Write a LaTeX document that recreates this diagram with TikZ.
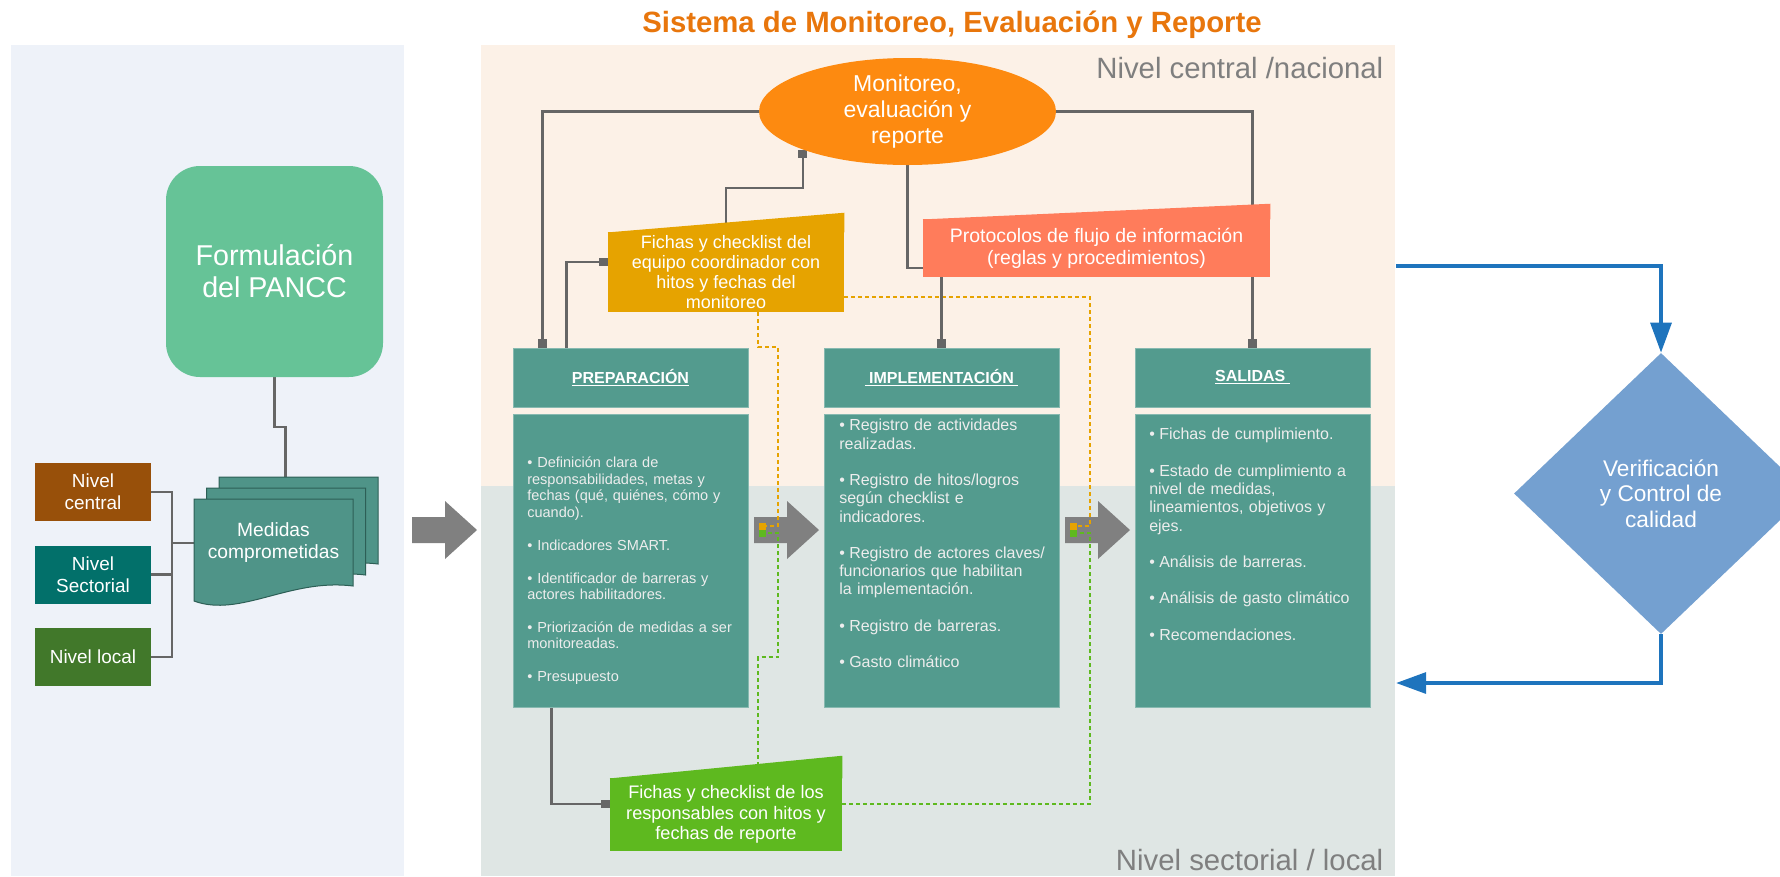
\documentclass[tikz,border=0pt]{standalone}
\usepackage{fontspec}
\setmainfont{Liberation Sans}
\usetikzlibrary{arrows.meta,shapes.geometric}

\definecolor{titleorange}{HTML}{E8760C}
\definecolor{panelblue}{HTML}{EEF2F9}
\definecolor{panelpeach}{HTML}{FCF1E7}
\definecolor{panelgray}{HTML}{DFE6E4}
\definecolor{formgreen}{HTML}{66C397}
\definecolor{docteal}{HTML}{4F9488}
\definecolor{docedge}{HTML}{2D5F56}
\definecolor{boxteal}{HTML}{539B8E}
\definecolor{nivbrown}{HTML}{98500A}
\definecolor{nivteal}{HTML}{02706A}
\definecolor{nivgreen}{HTML}{41782A}
\definecolor{merorange}{HTML}{FD8A10}
\definecolor{protocoral}{HTML}{FF7C5B}
\definecolor{fichgold}{HTML}{E6A300}
\definecolor{fichgreen}{HTML}{5EB91F}
\definecolor{wiregray}{HTML}{666666}
\definecolor{arrowgray}{HTML}{808080}
\definecolor{verblue}{HTML}{74A0D0}
\definecolor{linkblue}{HTML}{1E74BD}
\definecolor{levelgray}{HTML}{7F7F7F}

\pgfdeclarelayer{back}
\pgfdeclarelayer{wires}
\pgfsetlayers{back,wires,main}

\newcommand{\bitem}[1]{\par\noindent\hangindent=7.5pt\hangafter=1\makebox[7.5pt][l]{\textbullet}#1\par}
\newcommand{\itemgap}{\vspace{\baselineskip}}

\begin{document}
\begin{tikzpicture}[x=0.75pt,y=-0.75pt,node distance=233.25pt,
  level node/.style={fill=#1,minimum width=87pt,minimum height=43.5pt,inner sep=0,align=center,text=white,font=\fontsize{14.2pt}{16.3pt}\selectfont},
  head node/.style={fill=boxteal,draw=boxteal!70!white,line width=0.75pt,minimum width=176.25pt,minimum height=44.25pt,inner sep=0,text=white,font=\bfseries\fontsize{12pt}{14pt}\selectfont},
  body node/.style={fill=boxteal,draw=boxteal!70!white,line width=0.75pt,minimum width=176.25pt,minimum height=219.75pt,inner sep=0},
  body text/.style={anchor=north west,inner sep=0,text width=165pt,align=left,text=white!93!black},
  card node/.style={fill=#1,inner sep=0,align=center,text=white},
  conn/.style={draw=wiregray,line width=1.6pt},
  wire end/.style={-{Square[length=6.4pt,width=6.4pt]}},
  dash link/.style={line width=1.75pt,dash pattern=on 3pt off 2.25pt,-{Square[length=5.25pt,width=5.25pt]}},
  blue link/.style={draw=linkblue,line width=3pt,-{Triangle[length=22.5pt,width=15.5pt]}}]

  \useasboundingbox (0,0) rectangle (1780,876);

  % panels
  \begin{pgfonlayer}{back}
    \fill[panelblue] (11,45) rectangle (404,876);
    \fill[panelpeach] (481,45) rectangle (1395,486);
    \fill[panelgray] (481,486) rectangle (1395,876);
  \end{pgfonlayer}

  \node[anchor=base,text=titleorange,font=\bfseries\fontsize{22pt}{24pt}\selectfont] (title) at (952,32)
    {Sistema de Monitoreo, Evaluación y Reporte};
  \node[anchor=base east,text=levelgray,font=\fontsize{22pt}{24pt}\selectfont] (lvtop) at (1388,78) {Nivel central /nacional};
  \node[anchor=base east,text=levelgray,font=\fontsize{22pt}{24pt}\selectfont] (lvbot) at (1388,870) {Nivel sectorial / local};

  % formulacion side
  \node[fill=formgreen,rounded corners=25.5pt,minimum width=162.75pt,minimum height=158.25pt,align=center,text=white,
    font=\fontsize{21.5pt}{24pt}\selectfont] (form) at (274.5,271.5) {Formulación\\del PANCC};

  \foreach \dx/\dy in {25/-22,12.5/-11,0/0}
    \filldraw[fill=docteal,draw=docedge,line width=0.75pt,shift={(\dx,\dy)}]
      (194,499) -- (353,499) -- (353,586) .. controls (290,578) and (240,618) .. (194,601) -- cycle;
  \node[minimum width=119.25pt,minimum height=66pt,inner sep=0,align=center,text=white,
    font=\fontsize{14.4pt}{16.5pt}\selectfont] (med) at (273.5,543) {Medidas\\comprometidas};

  \node[level node=nivbrown] (nc) at (93,492) {Nivel\\central};
  \node[level node=nivteal] (ns) [below of=nc, node distance=61.9pt] {Nivel\\Sectorial};
  \node[level node=nivgreen] (nl) [below of=ns, node distance=61.9pt] {Nivel local};

  % central / nacional
  \node[ellipse,fill=merorange,minimum width=222.75pt,minimum height=80.25pt,inner sep=0,align=center,text=white,
    font=\fontsize{17.25pt}{19.5pt}\selectfont] (mer) at (907.5,111.5) {Monitoreo,\\evaluación y\\reporte};

  \node[card node=protocoral,minimum width=260.25pt,minimum height=43.5pt,
    font=\fontsize{14.6pt}{16.5pt}\selectfont] (proto) at (1096.5,248)
    {Protocolos de flujo de información\\(reglas y procedimientos)};
  \node[card node=fichgold,minimum width=177pt,minimum height=60pt,
    font=\fontsize{13.5pt}{15pt}\selectfont] (cfe) at (726,272)
    {Fichas y checklist del\\equipo coordinador con\\hitos y fechas del\\monitoreo};
  \node[card node=fichgreen,minimum width=174pt,minimum height=54.75pt,
    font=\fontsize{13.6pt}{15.4pt}\selectfont] (gfr) at (726,814.5)
    {Fichas y checklist de los\\responsables con hitos y\\fechas de reporte};
  \foreach \n/\c/\h in {cfe/fichgold/14.25pt,proto/protocoral/11.25pt,gfr/fichgreen/16.5pt}
    \fill[\c] ([yshift=-0.5pt]\n.north west) -- ([yshift=-0.5pt]\n.north east) -- ([yshift=\h]\n.north east) -- cycle;

  \node[head node] (prep) at (630.5,377.5) {\underline{PREPARACIÓN}};
  \node[head node] (impl) [right of=prep] {\underline{\ IMPLEMENTACIÓN\ }};
  \node[head node] (sal) [right of=impl] {\underline{SALIDAS\ }};
  \node[body node] (prepb) [below of=prep, node distance=137.25pt] {};
  \node[body node] (implb) [below of=impl, node distance=137.25pt] {};
  \node[body node] (salb) [below of=sal, node distance=137.25pt] {};

  \node[body text,font=\fontsize{10.9pt}{12.35pt}\selectfont] (prept) at (527,451) {%
    \bitem{\strut Definición clara de\\responsabilidades, metas y\\fechas (qué, quiénes, cómo y\\cuando).}\itemgap
    \bitem{Indicadores SMART.}\itemgap
    \bitem{Identificador de barreras y\\actores habilitadores.}\itemgap
    \bitem{Priorización de medidas a ser\\monitoreadas.}\itemgap
    \bitem{Presupuesto}};
  \node[body text,font=\fontsize{12pt}{13.67pt}\selectfont] (implt) at (839,412.4) {%
    \bitem{\strut Registro de actividades\\realizadas.}\itemgap
    \bitem{Registro de hitos/logros\\según checklist e\\indicadores.}\itemgap
    \bitem{Registro de actores claves/\\funcionarios que habilitan\\la implementación.}\itemgap
    \bitem{Registro de barreras.}\itemgap
    \bitem{Gasto climático}};
  \node[body text,font=\fontsize{12pt}{13.67pt}\selectfont] (salt) at (1149,421.4) {%
    \bitem{\strut Fichas de cumplimiento.}\itemgap
    \bitem{Estado de cumplimiento a\\nivel de medidas,\\lineamientos, objetivos y\\ejes.}\itemgap
    \bitem{Análisis de barreras.}\itemgap
    \bitem{Análisis de gasto climático}\itemgap
    \bitem{Recomendaciones.}};

  % verificacion
  \node[diamond,fill=verblue,minimum width=220.5pt,minimum height=210.75pt,inner sep=0,align=center,text=white,
    font=\fontsize{17pt}{19pt}\selectfont] (ver) at (1661,493.5) {Verificación\\y Control de\\calidad};

  \coordinate (inA1) at (759,526);
  \coordinate (inA2) at (759,533);
  \coordinate (inB1) at (1070,526);
  \coordinate (inB2) at (1070,533);
  \coordinate (outT) at (1396,266);
  \coordinate (outB) at (1396,683);

  \begin{pgfonlayer}{wires}
    % big grey arrows
    \foreach \ax in {412,754,1065}
      \fill[arrowgray] (\ax,517) -- ++(33,0) -- ++(0,-16) -- ++(32,29) -- ++(-32,29) -- ++(0,-16) -- ++(-33,0) -- cycle;

    % dashed links
    \draw[dash link,fichgold] ([xshift=24pt]cfe.south) -- ++(0,35) -- ++(20,0) |- (inA1);
    \draw[dash link,fichgold] ([yshift=-18.75pt]cfe.east) -- ++(246,0) |- (inB1);
    \draw[dash link,fichgreen] ([xshift=24pt]gfr.center) -- ++(0,-157.5) -- ++(20,0) |- (inA2);
    \draw[dash link,fichgreen] ([yshift=7.9pt]gfr.east) -- ++(248,0) |- (inB2);

    % grey connectors
    \draw[conn,wire end] (mer.west) -| ([xshift=22.5pt]prep.north west);
    \draw[conn,wire end] (mer.east) -| (sal.north);
    \draw[conn] (mer.south) |- ([yshift=-15pt]proto.west);
    \draw[conn,wire end] (proto.south -| impl.north) -- (impl.north);
    \draw[conn,wire end] ([xshift=40.5pt]prep.north west) |- ([yshift=7.5pt]cfe.west);
    \draw[conn,wire end] (cfe.center) -- ++(0,-84) -| (mer.200);
    \draw[conn,wire end] ([xshift=29.25pt]prepb.south west) |- ([yshift=7.9pt]gfr.west);

    \draw[conn] (form.south) -- ++(0,50) -| ([xshift=9pt,yshift=16.5pt]med.north);
    \foreach \n in {nc,ns,nl}
      \draw[conn] (\n.east) -| ([xshift=-16.5pt]med.west) -- (med.west);

    % control loop
    \draw[blue link] (outT) -| (ver.north);
    \draw[blue link] (ver.south) |- (outB);
  \end{pgfonlayer}
\end{tikzpicture}
\end{document}
